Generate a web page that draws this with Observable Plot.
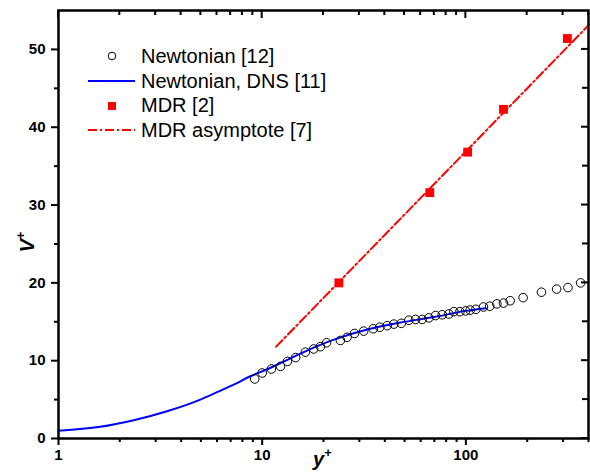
<!DOCTYPE html>
<html><head><meta charset="utf-8">
<script src="https://cdn.jsdelivr.net/npm/d3@7"></script>
<script src="https://cdn.jsdelivr.net/npm/@observablehq/plot@0.6"></script>
<style>
body{margin:0;background:#fff;font-family:"Liberation Sans",Arial,sans-serif;}
#wrap{position:relative;width:590px;height:473px;overflow:hidden;}
.axlab{position:absolute;font-weight:bold;font-style:italic;font-size:20px;line-height:1;white-space:nowrap;}
.axlab sup{font-size:13px;font-style:normal;vertical-align:0;position:relative;top:-9px;}
#legend{position:absolute;left:86px;top:44px;font-size:20px;line-height:24.7px;}
#legend .row{display:flex;align-items:center;height:24.7px;}
#legend svg{width:52px;height:24px;margin-right:3px;}
</style></head><body><div id="wrap"></div>
<script>
// Newtonian [12] (circles)
const newtX = [9.19,10.0,11.1,12.3,13.3,14.6,16.3,17.9,19.3,20.7,24.2,26.1,28.4,31.5,35.1,37.8,41.1,44.3,48.2,52.5,56.6,61.0,65.8,71.0,76.5,82.5,87.3,93.5,99.7,105,112,122,131,142,153,165,191,235,279,317,366];
const newtY = [7.65,8.42,8.93,9.27,9.91,10.4,11.1,11.5,11.8,12.3,12.6,13.0,13.5,13.8,14.1,14.3,14.5,14.7,14.8,15.2,15.3,15.3,15.5,15.8,15.9,16.0,16.3,16.3,16.4,16.5,16.6,16.9,17.0,17.3,17.4,17.7,18.1,18.8,19.2,19.4,20.0];
// Newtonian, DNS [11] (blue line)
const dnsX = [1.0,1.6,2.34,3.41,4.97,6.0,7.25,8.75,10.6,12.8,16.6,22.5,32.8,47.8,69.6,100,125];
const dnsY = [1.0,1.5,2.35,3.5,5.0,5.95,6.92,8.0,8.9,9.9,11.3,12.7,14.0,14.9,15.6,16.4,16.75];
// MDR [2] (red squares)
const mdrX = [23.8,66.5,102,153,315];
const mdrY = [20.0,31.6,36.8,42.3,51.4];
// MDR asymptote [7] (dash-dot line)
const asymX = [11.7,400];
const asymY = [11.8,53.1];
// ticks
const xMajor = [1,10,100];
const xMinor = [2,3,4,5,6,7,8,9,20,30,40,50,60,70,80,90,200,300,400];
const yMajor = [0,10,20,30,40,50];
const yMinor = [5,15,25,35,45];

const zip = (xs, ys) => xs.map((x, i) => ({x, y: ys[i]}));
const newt = zip(newtX, newtY), dns = zip(dnsX, dnsY), mdr = zip(mdrX, mdrY), asym = zip(asymX, asymY);

const W = 590, H = 473, mL = 58, mR = 2, mT = 10, mB = 35;
const font = "Liberation Sans, Arial, sans-serif";
const chart = Plot.plot({
  width: W, height: H,
  marginLeft: mL, marginRight: mR, marginTop: mT, marginBottom: mB,
  x: {type: "log", domain: [1, 400]},
  y: {domain: [0, 55]},
  style: {fontFamily: font, background: "white", overflow: "visible"},
  marks: [
    Plot.line(asym, {x: "x", y: "y", stroke: "#ff0000", strokeWidth: 2, strokeDasharray: "9,3,2,3"}),
    Plot.line(dns, {x: "x", y: "y", stroke: "#0000ff", strokeWidth: 2, curve: "monotone-x"}),
    Plot.dot(newt, {x: "x", y: "y", r: 4.3, stroke: "black", strokeWidth: 1, fill: "none"}),
    Plot.dot(mdr, {x: "x", y: "y", symbol: "square", r: 5, fill: "#ff0000", stroke: "none"}),
    Plot.axisX({ticks: xMajor, tickSize: 7, tickPadding: 4, tickFormat: d => String(d), fontSize: 15, fontWeight: "bold", label: null, strokeWidth: 2, color: "black"}),
    Plot.axisX({ticks: xMinor, tickSize: 4, tickFormat: () => "", label: null, strokeWidth: 2}),
    Plot.axisY({ticks: yMajor, tickSize: 7, tickPadding: 6, tickFormat: d => String(d), fontSize: 15, fontWeight: "bold", label: null, strokeWidth: 2}),
    Plot.axisY({ticks: yMinor, tickSize: 4, tickFormat: () => "", label: null, strokeWidth: 2}),
    Plot.frame({stroke: "black", strokeWidth: 2.5})
  ]
});
const wrap = document.getElementById("wrap");
wrap.appendChild(chart);

// mirrored inward ticks on the top and right edges, placed with the plot's own scales
const sx = chart.scale("x"), sy = chart.scale("y");
const g = d3.select(chart).append("g").attr("stroke", "black").attr("stroke-width", 2);
const topY = mT, rightX = W - mR;
xMajor.forEach(v => g.append("line").attr("x1", sx.apply(v)).attr("x2", sx.apply(v)).attr("y1", topY).attr("y2", topY + 8));
xMinor.forEach(v => g.append("line").attr("x1", sx.apply(v)).attr("x2", sx.apply(v)).attr("y1", topY).attr("y2", topY + 5));
yMajor.forEach(v => g.append("line").attr("y1", sy.apply(v)).attr("y2", sy.apply(v)).attr("x1", rightX).attr("x2", rightX - 7));
yMinor.forEach(v => g.append("line").attr("y1", sy.apply(v)).attr("y2", sy.apply(v)).attr("x1", rightX).attr("x2", rightX - 6));

// axis labels
const yl = document.createElement("div");
yl.className = "axlab";
yl.innerHTML = "V<sup>+</sup>";
yl.style.left = "17px"; yl.style.top = "242px";
yl.style.transformOrigin = "0 0";
yl.style.transform = "rotate(-90deg) translate(-50%, 0)";
wrap.appendChild(yl);
const xl = document.createElement("div");
xl.className = "axlab";
xl.innerHTML = "y<sup>+</sup>";
xl.style.left = "313px"; xl.style.top = "449px";
wrap.appendChild(xl);

// legend
const legendItems = [
  {label: "Newtonian [12]", sym: '<circle cx="26" cy="12" r="3.8" fill="none" stroke="black" stroke-width="1"/>'},
  {label: "Newtonian, DNS [11]", sym: '<line x1="2" x2="49" y1="12" y2="12" stroke="#0000ff" stroke-width="2"/>'},
  {label: "MDR [2]", sym: '<rect x="22" y="8" width="8" height="8" fill="#ff0000"/>'},
  {label: "MDR asymptote [7]", sym: '<line x1="2" x2="49" y1="12" y2="12" stroke="#ff0000" stroke-width="2" stroke-dasharray="9,3,2,3"/>'}
];
const lg = document.createElement("div");
lg.id = "legend";
lg.innerHTML = legendItems.map(d => `<div class="row"><svg viewBox="0 0 52 24">${d.sym}</svg><span>${d.label}</span></div>`).join("");
wrap.appendChild(lg);
</script>
</body></html>
